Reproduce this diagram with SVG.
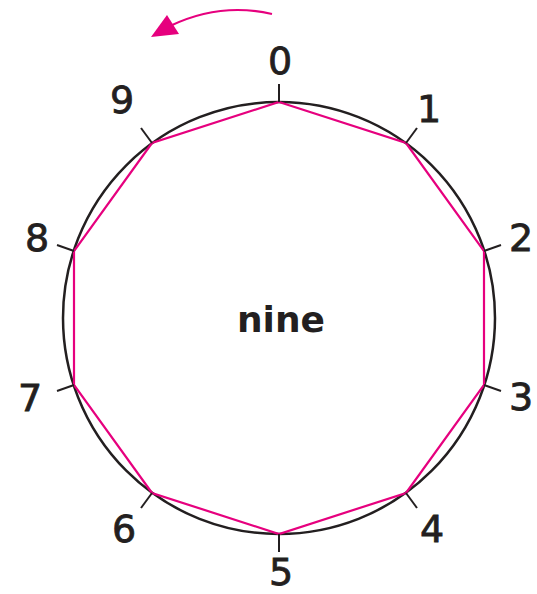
<svg xmlns="http://www.w3.org/2000/svg" width="537" height="594" viewBox="0 0 537 594">
<style>
.lbl{font-family:"DejaVu Sans","Noto Sans",sans-serif;font-size:38px;fill:#231f20;stroke:#231f20;stroke-width:0.8;text-anchor:middle;dominant-baseline:central}
.title{font-family:"DejaVu Sans","Noto Sans",sans-serif;font-size:36px;font-weight:bold;fill:#231f20;text-anchor:middle;dominant-baseline:central}
.tick{stroke:#231f20;stroke-width:2}
.pink{stroke:#e6007e;stroke-width:2.2;fill:none}
</style>
<rect width="537" height="594" fill="#fff"/>
<g id="circle">
<circle cx="279" cy="318" r="216" fill="none" stroke="#231f20" stroke-width="2.5"/>
</g>
<g id="connectors">
<polygon class="pink" points="279,102 406,143 484,251 484,385 406,493 279,534 152,493 74,385 74,251 152,143"/>
<path class="pink" stroke-width="3" d="M272,14 Q220,2 170,26"/>
<polygon points="151,37 167,15 179,34" fill="#e6007e"/>
</g>
<g id="ticks">
<line class="tick" x1="279" y1="102" x2="279" y2="84"/>
<line class="tick" x1="406" y1="143" x2="417" y2="128"/>
<line class="tick" x1="484" y1="251" x2="501" y2="245"/>
<line class="tick" x1="484" y1="385" x2="501" y2="391"/>
<line class="tick" x1="406" y1="493" x2="417" y2="508"/>
<line class="tick" x1="279" y1="534" x2="279" y2="552"/>
<line class="tick" x1="152" y1="493" x2="141" y2="508"/>
<line class="tick" x1="74" y1="385" x2="57" y2="391"/>
<line class="tick" x1="74" y1="251" x2="57" y2="245"/>
<line class="tick" x1="152" y1="143" x2="141" y2="128"/>
</g>
<g id="n0"><text class="lbl" x="280" y="61">0</text></g>
<g id="n1"><text class="lbl" x="429" y="109">1</text></g>
<g id="n2"><text class="lbl" x="521" y="238">2</text></g>
<g id="n3"><text class="lbl" x="521" y="397">3</text></g>
<g id="n4"><text class="lbl" x="432" y="529">4</text></g>
<g id="n5"><text class="lbl" x="281" y="572">5</text></g>
<g id="n6"><text class="lbl" x="124" y="529">6</text></g>
<g id="n7"><text class="lbl" x="30" y="398">7</text></g>
<g id="n8"><text class="lbl" x="37" y="238">8</text></g>
<g id="n9"><text class="lbl" x="122" y="100">9</text></g>
<g id="title"><text class="title" x="281" y="319">nine</text></g>
</svg>
